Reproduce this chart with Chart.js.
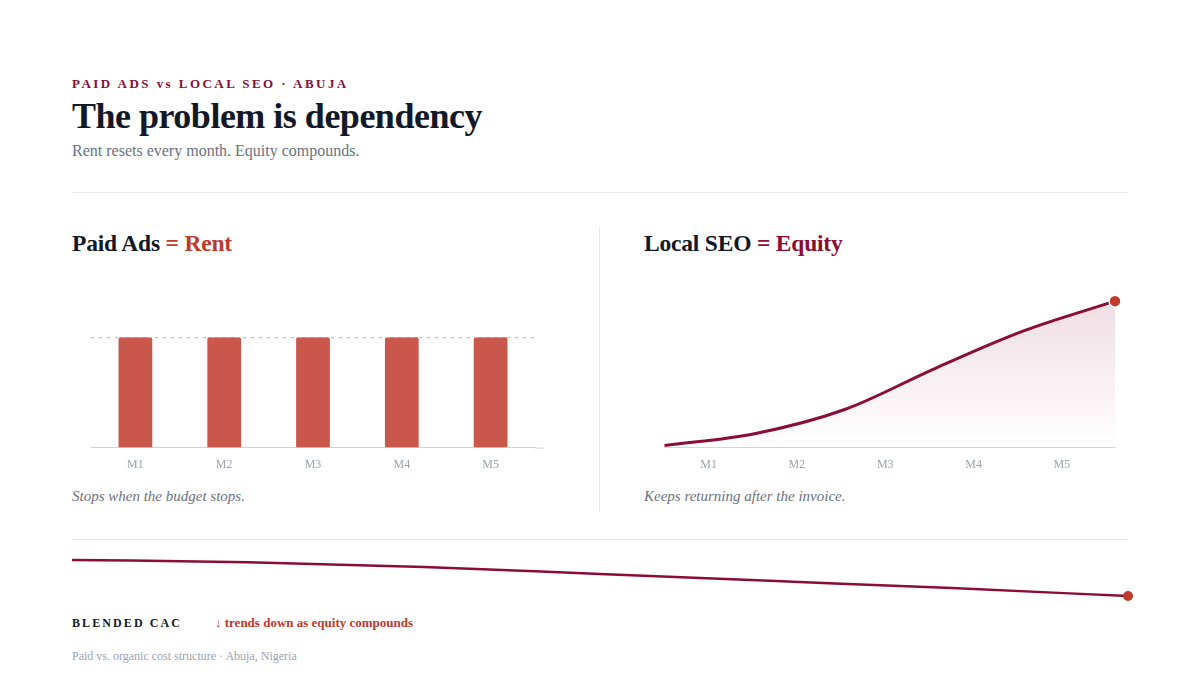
<!DOCTYPE html>
<html lang="en">
<head>
    <meta charset="UTF-8">
    <title>Paid Ads vs Local SEO</title>
    <style>
        html, body { margin: 0; padding: 0; background: #fff; }
        body { width: 1200px; height: 675px; position: relative; overflow: hidden;
               font-family: "Liberation Serif", "DejaVu Serif", serif; color: #111827; }
        .abs { position: absolute; white-space: nowrap; }
        .kicker { left: 72px; top: 76px; font-size: 13px; font-weight: bold; letter-spacing: 2.45px; color: #8b0d35; }
        .title { left: 72px; top: 95px; font-size: 36px; font-weight: bold; letter-spacing: -0.5px; }
        .sub { left: 72px; top: 142px; font-size: 16px; color: #6b7280; }
        .rule { position: absolute; background: #e5e7eb; }
        .head { top: 230px; font-size: 23.5px; font-weight: bold; letter-spacing: -0.2px; }
        .cap { top: 488px; font-size: 15px; font-style: italic; color: #6b7280; }
        .chart { position: absolute; }
        .cac { left: 72px; top: 616px; font-size: 12px; font-weight: bold; letter-spacing: 2.1px; }
        .trend { left: 215px; top: 615px; font-size: 13px; font-weight: bold; color: #c0392b; }
        .foot { left: 72px; top: 649px; font-size: 12px; color: #9ca3af; }
    </style>
</head>
<body>
    <div class="abs kicker">PAID ADS vs LOCAL SEO · ABUJA</div>
    <div class="abs title">The problem is dependency</div>
    <div class="abs sub">Rent resets every month. Equity compounds.</div>
    <div class="rule" style="left:72px; top:192px; width:1056px; height:1px;"></div>

    <div class="abs head" style="left:72px;">Paid Ads <span style="color:#c0392b">= Rent</span></div>
    <div class="abs head" style="left:644px;">Local SEO <span style="color:#8b0d35">= Equity</span></div>
    <div class="rule" style="left:599px; top:227px; width:1px; height:285px;"></div>

    <div class="chart" style="left:91px; top:282px; width:453px; height:200px;"><canvas id="rentChart"></canvas></div>
    <div class="chart" style="left:657px; top:279px; width:466px; height:203px;"><canvas id="equityChart"></canvas></div>

    <div class="abs cap" style="left:72px;">Stops when the budget stops.</div>
    <div class="abs cap" style="left:644px;">Keeps returning after the invoice.</div>

    <div class="rule" style="left:72px; top:539px; width:1056px; height:1px;"></div>
    <div class="chart" style="left:66px; top:550px; width:1070px; height:56px;"><canvas id="cacChart"></canvas></div>

    <div class="abs cac">BLENDED CAC</div>
    <div class="abs trend">↓ trends down as equity compounds</div>
    <div class="abs foot">Paid vs. organic cost structure · Abuja, Nigeria</div>

    <script src="https://cdn.jsdelivr.net/npm/chart.js"></script>
    <script>
        // data
        const months = ['M1', 'M2', 'M3', 'M4', 'M5'];
        const rentSpend = [100, 100, 100, 100, 100];
        const equityX = [0, 1, 2, 3, 4, 5];
        const equityValue = [1.4, 9.5, 26, 54, 80, 100];
        const monthTicks = [0.49, 1.47, 2.45, 3.43, 4.41];
        const cacValue = [91, 86, 75, 59, 43, 27, 9];

        const RED = '#c0392b';
        const CRIMSON = '#8b0d35';
        const serif = '"Liberation Serif", "DejaVu Serif", serif';

        Chart.defaults.font.family = serif;
        Chart.defaults.animation = false;
        Chart.defaults.maintainAspectRatio = false;
        Chart.defaults.plugins.legend.display = false;
        Chart.defaults.plugins.tooltip.enabled = false;

        // dashed reference line at the bar level, baseline runs a bit past the bars
        const refLine = {
            id: 'refLine',
            afterDatasetsDraw(chart) {
                const { ctx, chartArea, scales } = chart;
                const y = scales.y.getPixelForValue(rentSpend[0]);
                ctx.save();
                ctx.strokeStyle = '#e79a9a';
                ctx.lineWidth = 1;
                ctx.setLineDash([3, 5]);
                ctx.beginPath();
                ctx.moveTo(chartArea.left, y + 0.5);
                ctx.lineTo(chartArea.right + 4, y + 0.5);
                ctx.stroke();
                ctx.setLineDash([]);
                ctx.strokeStyle = '#d1d5db';
                ctx.beginPath();
                ctx.moveTo(chartArea.right, chartArea.bottom + 0.5);
                ctx.lineTo(chartArea.right + 9, chartArea.bottom + 0.5);
                ctx.stroke();
                ctx.restore();
            }
        };

        new Chart(document.getElementById('rentChart'), {
            type: 'bar',
            data: {
                labels: months,
                datasets: [{
                    data: rentSpend,
                    backgroundColor: 'rgba(192,57,43,0.85)',
                    borderRadius: 2,
                    borderSkipped: 'bottom',
                    categoryPercentage: 1,
                    barPercentage: 0.38
                }]
            },
            options: {
                layout: { padding: { left: 0, right: 9, top: 0, bottom: 0 } },
                scales: {
                    x: {
                        grid: { display: false, drawTicks: false },
                        border: { display: true, color: '#d1d5db' },
                        ticks: { color: '#9ca3af', font: { size: 12 }, padding: 10 }
                    },
                    y: { display: false, min: 0, max: 150 }
                }
            },
            plugins: [refLine]
        });

        new Chart(document.getElementById('equityChart'), {
            type: 'line',
            data: {
                datasets: [{
                    data: equityX.map((x, i) => ({ x: x, y: equityValue[i] })),
                    borderColor: CRIMSON,
                    borderWidth: 3,
                    cubicInterpolationMode: 'monotone',
                    fill: 'origin',
                    clip: false,
                    backgroundColor(context) {
                        const area = context.chart.chartArea;
                        if (!area) return 'rgba(139,13,53,0.1)';
                        const g = context.chart.ctx.createLinearGradient(0, area.top, 0, area.bottom);
                        g.addColorStop(0, 'rgba(139,13,53,0.15)');
                        g.addColorStop(1, 'rgba(139,13,53,0)');
                        return g;
                    },
                    pointRadius: equityValue.map((v, i) => i === equityValue.length - 1 ? 6 : 0),
                    pointBackgroundColor: RED,
                    pointBorderColor: '#fff',
                    pointBorderWidth: 1.5
                }]
            },
            options: {
                layout: { padding: { left: 6, right: 8, top: 6, bottom: 0 } },
                scales: {
                    x: {
                        type: 'linear', min: 0, max: 5,
                        grid: { display: false, drawTicks: false },
                        border: { display: true, color: '#d1d5db' },
                        afterBuildTicks(scale) {
                            scale.ticks = monthTicks.map(v => ({ value: v }));
                        },
                        ticks: {
                            color: '#9ca3af', font: { size: 12 }, padding: 10,
                            callback(value) { return months[monthTicks.indexOf(value)]; }
                        }
                    },
                    y: { display: false, min: 0, max: 110 }
                }
            }
        });

        new Chart(document.getElementById('cacChart'), {
            type: 'line',
            data: {
                labels: cacValue.map((v, i) => i),
                datasets: [{
                    data: cacValue,
                    borderColor: CRIMSON,
                    borderWidth: 2.5,
                    cubicInterpolationMode: 'monotone',
                    clip: false,
                    pointRadius: cacValue.map((v, i) => i === cacValue.length - 1 ? 5 : 0),
                    pointBackgroundColor: RED,
                    pointBorderColor: RED,
                    pointBorderWidth: 0
                }]
            },
            options: {
                layout: { padding: { left: 6, right: 8, top: 6, bottom: 6 } },
                scales: {
                    x: { display: false },
                    y: { display: false, min: 0, max: 100 }
                }
            }
        });
    </script>
</body>
</html>
